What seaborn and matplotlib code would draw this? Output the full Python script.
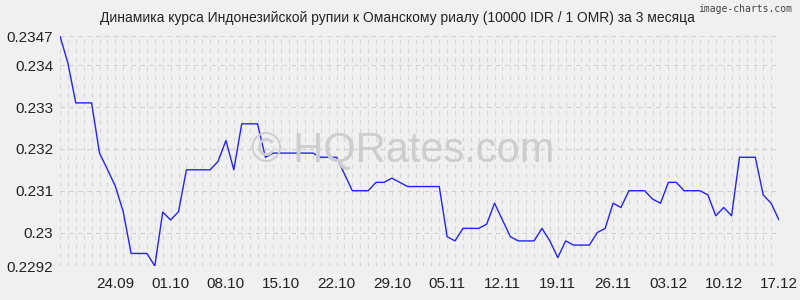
import pandas as pd
import numpy as np
import matplotlib
matplotlib.use("Agg")
import matplotlib.pyplot as plt
import matplotlib.dates as mdates
import seaborn as sns

# ---- data ----
start_date = "2025-09-17"
rates = [
    0.2347, 0.23405, 0.2331, 0.2331, 0.2331, 0.2319, 0.23151, 0.23111, 0.2305, 0.2295,
    0.2295, 0.2295, 0.2292, 0.23049, 0.2303, 0.2305, 0.2315, 0.2315, 0.2315, 0.2315,
    0.2317, 0.2322, 0.2315, 0.2326, 0.2326, 0.2326, 0.2318, 0.2319, 0.2319, 0.2319,
    0.2319, 0.2319, 0.2319, 0.2318, 0.2318, 0.2318, 0.2314, 0.2310, 0.2310, 0.2310,
    0.2312, 0.2312, 0.2313, 0.2312, 0.2311, 0.2311, 0.2311, 0.2311, 0.2311, 0.2299,
    0.2298, 0.2301, 0.2301, 0.2301, 0.2302, 0.2307, 0.2303, 0.2299, 0.2298, 0.2298,
    0.2298, 0.2301, 0.2298, 0.2294, 0.2298, 0.2297, 0.2297, 0.2297, 0.2300, 0.2301,
    0.2307, 0.2306, 0.2310, 0.2310, 0.2310, 0.2308, 0.2307, 0.2312, 0.2312, 0.2310,
    0.2310, 0.2310, 0.2309, 0.2304, 0.2306, 0.2304, 0.2318, 0.2318, 0.2318, 0.2309,
    0.2307, 0.2303,
]
x_tick_dates = ["2025-09-24", "2025-10-01", "2025-10-08", "2025-10-15", "2025-10-22",
                "2025-10-29", "2025-11-05", "2025-11-12", "2025-11-19", "2025-11-26",
                "2025-12-03", "2025-12-10", "2025-12-17"]
x_tick_labels = ["24.09", "01.10", "08.10", "15.10", "22.10", "29.10", "05.11",
                 "12.11", "19.11", "26.11", "03.12", "10.12", "17.12"]
y_ticks = [0.2292, 0.23, 0.231, 0.232, 0.233, 0.234, 0.2347]
y_tick_labels = ["0.2292", "0.23", "0.231", "0.232", "0.233", "0.234", "0.2347"]
title = "Динамика курса Индонезийской рупии к Оманскому риалу (10000 IDR / 1 OMR) за 3 месяца"

dates = pd.date_range(start_date, periods=len(rates), freq="D")
df = pd.DataFrame({"date": dates, "rate": rates})

sns.set_style("white")
plt.rcParams["font.family"] = ["Liberation Sans", "DejaVu Sans"]

bg = "#f0f0f0"
fig = plt.figure(figsize=(8, 3), dpi=100, facecolor=bg)
ax = fig.add_axes([60/800, 1-266/300, (779-60)/800, (266-36)/300])
ax.set_facecolor(bg)

# watermark
fig.text(0.503, 0.50, "© HQRates.com", fontsize=30, color="#cdcdcd",
         ha="center", va="center", zorder=0)

sns.lineplot(data=df, x="date", y="rate", ax=ax, color="#2222ff", linewidth=1.0, zorder=3)

ax.set_xlim(dates[0], dates[-1])
ax.set_ylim(y_ticks[0], y_ticks[-1])

# grid: vertical dashed line on every day, horizontal at y ticks
for d in dates:
    ax.axvline(d, color="#d6d6d6", linestyle=(0, (4, 4)), linewidth=0.8, zorder=1)
for yv in y_ticks:
    ax.axhline(yv, color="#d0d0d0", linestyle=(0, (4, 4)), linewidth=0.8, zorder=1)

ax.set_yticks(y_ticks)
ax.set_yticklabels(y_tick_labels)
ax.set_xticks(pd.to_datetime(x_tick_dates))
ax.set_xticklabels(x_tick_labels)
ax.tick_params(axis="both", length=0, labelsize=11, colors="#222222", pad=5)
ax.tick_params(axis="x", pad=8)
ax.set_xlabel("")
ax.set_ylabel("")
for s in ax.spines.values():
    s.set_visible(False)

fig.text(0.497, 1-18/300, title, ha="center", va="center", fontsize=10, color="#222222")
fig.text(0.99, 1-9/300, "image-charts.com", ha="right", va="center", fontsize=7,
         color="#444444", family=["DejaVu Sans Mono"])

fig.savefig("out.png", dpi=100, facecolor=bg)
